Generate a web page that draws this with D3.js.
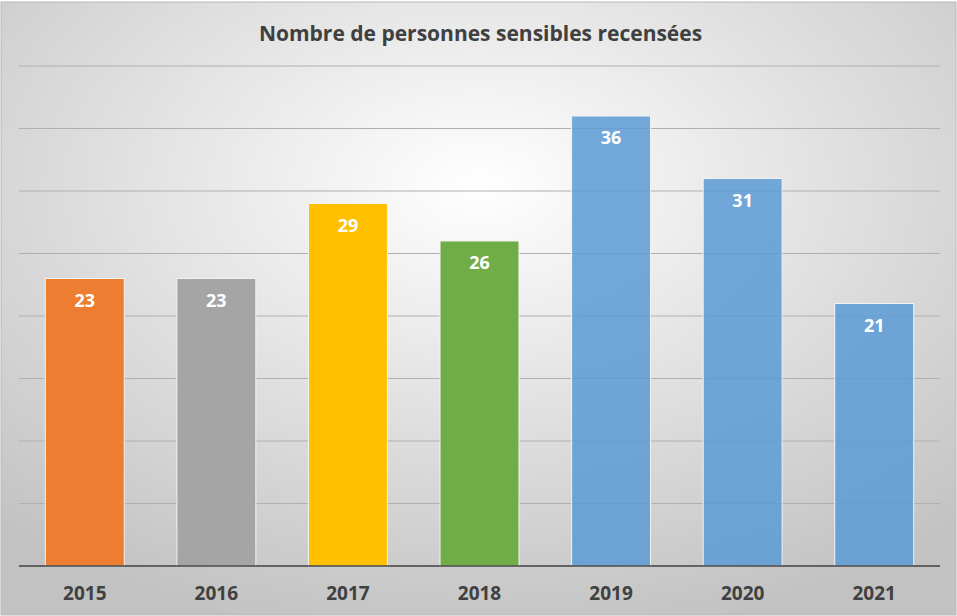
<!DOCTYPE html>
<html>
<head>
<meta charset="utf-8">
<script src="https://cdn.jsdelivr.net/npm/d3@7"></script>
<style>
  body { margin: 0; background: #fff; }
  svg { display: block; }
  text { font-family: "Open Sans", "Noto Sans", sans-serif; }
</style>
</head>
<body>
<div id="chart"></div>
<script>
const years = ["2015", "2016", "2017", "2018", "2019", "2020", "2021"];
const counts = [23, 23, 29, 26, 36, 31, 21];
const barColors = ["#ED7D31", "#A5A5A5", "#FFC000", "#70AD47", "#5B9BD5", "#5B9BD5", "#5B9BD5"];
const gridTicks = [0, 5, 10, 15, 20, 25, 30, 35, 40];

window.onload = function () {
    const W = 957, H = 616;
    const margin = { top: 66, right: 17, bottom: 50, left: 19 };
    const width = W - margin.left - margin.right;
    const height = H - margin.top - margin.bottom;

    const svg = d3.select("#chart")
        .append("svg")
        .attr("width", W)
        .attr("height", H);

    const defs = svg.append("defs");
    const grad = defs.append("radialGradient")
        .attr("id", "bg")
        .attr("cx", "50%").attr("cy", "30%").attr("r", "75%");
    grad.append("stop").attr("offset", "0%").attr("stop-color", "#ffffff");
    grad.append("stop").attr("offset", "100%").attr("stop-color", "#c2c2c2");

    svg.append("rect")
        .attr("x", 1).attr("y", 2)
        .attr("width", W - 2).attr("height", H - 3)
        .attr("fill", "url(#bg)")
        .attr("stroke", "#b8b8b8")
        .attr("stroke-width", 1);

    svg.append("text")
        .attr("x", W / 2 + 2)
        .attr("y", 41)
        .attr("text-anchor", "middle")
        .attr("font-size", 21)
        .attr("font-weight", "bold")
        .attr("fill", "#404040")
        .text("Nombre de personnes sensibles recensées");

    const g = svg.append("g")
        .attr("transform", "translate(" + margin.left + "," + margin.top + ")");

    const x = d3.scaleBand()
        .domain(years)
        .range([0, width])
        .paddingInner(0.4)
        .paddingOuter(0.2);

    const y = d3.scaleLinear()
        .domain([0, 40])
        .range([height, 0]);

    g.selectAll(".grid")
        .data(gridTicks.slice(1))
        .enter()
        .append("line")
        .attr("class", "grid")
        .attr("x1", 0).attr("x2", width)
        .attr("y1", d => y(d)).attr("y2", d => y(d))
        .attr("stroke", "#b0b0b0")
        .attr("stroke-width", 1);

    g.selectAll(".bar")
        .data(counts)
        .enter()
        .append("rect")
        .attr("class", "bar")
        .attr("x", (d, i) => x(years[i]))
        .attr("y", d => y(d))
        .attr("width", x.bandwidth())
        .attr("height", d => y(0) - y(d))
        .attr("fill", (d, i) => barColors[i])
        .attr("fill-opacity", (d, i) => i >= 4 ? 0.85 : 1)
        .attr("stroke", "#f2f2f2")
        .attr("stroke-width", 1);

    g.selectAll(".val")
        .data(counts)
        .enter()
        .append("text")
        .attr("class", "val")
        .attr("x", (d, i) => x(years[i]) + x.bandwidth() / 2)
        .attr("y", d => y(d) + 28)
        .attr("text-anchor", "middle")
        .attr("font-size", 18)
        .attr("font-weight", "bold")
        .attr("fill", "#ffffff")
        .text(d => d);

    // axe horizontal
    g.append("line")
        .attr("x1", 0).attr("x2", width)
        .attr("y1", y(0)).attr("y2", y(0))
        .attr("stroke", "#404040")
        .attr("stroke-width", 1.5);

    const xAxis = g.append("g")
        .attr("transform", "translate(0," + height + ")")
        .call(d3.axisBottom(x).tickSize(0).tickPadding(21));
    xAxis.select(".domain").remove();
    xAxis.selectAll("text")
        .attr("font-size", 19)
        .attr("font-weight", "bold")
        .attr("fill", "#404040")
        .style("font-family", "'Open Sans', 'Noto Sans', sans-serif");
};
</script>
</body>
</html>
